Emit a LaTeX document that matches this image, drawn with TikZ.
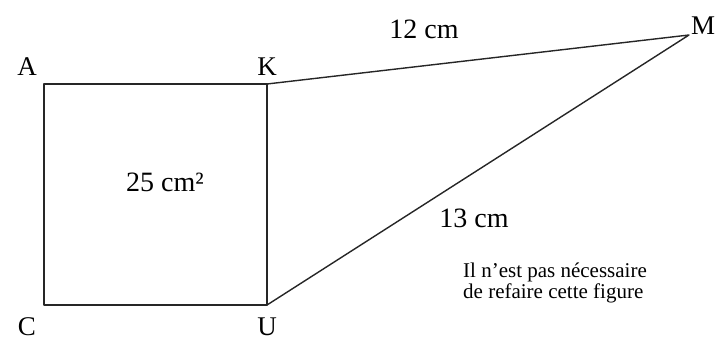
\documentclass[tikz,border=0pt]{standalone}
\usepackage{fontspec}
\setmainfont{Liberation Serif}
\begin{document}
\begin{tikzpicture}[x=1pt,y=-1pt,line join=round,line cap=round,
	pt/.style={font=\fontsize{27}{30}\selectfont,inner sep=0pt},
	mes/.style={font=\fontsize{28}{31}\selectfont,inner sep=0pt},
	fig/.style={line width=1.4pt,black!85}]
	\useasboundingbox (0,0) rectangle (724,345);
	\coordinate (A) at (44,84);
	\coordinate (K) at (267,84);
	\coordinate (U) at (267,305);
	\coordinate (C) at (44,305);
	\coordinate (M) at (689,35);
	\draw[fig] (A)--(K)--(U)--(C)--cycle;
	\draw[fig] (K)--(M)--(U);
	\node[pt] (lA) at (27,67) {A};
	\node[pt] (lK) at (267,67) {K};
	\node[pt] (lC) at (27,327) {C};
	\node[pt] (lU) at (267,327) {U};
	\node[pt] (lM) at (703,26) {M};
	\node[mes] (aire) at (165,182) {25 cm²};
	\node[mes] (km) at (424,29) {12 cm};
	\node[mes] (um) at (474,218) {13 cm};
	\node[font=\fontsize{21}{21}\selectfont,align=left,inner sep=0pt,anchor=north west] (note) at (463,263) {Il n’est pas nécessaire\\de refaire cette figure};
\end{tikzpicture}
\end{document}
